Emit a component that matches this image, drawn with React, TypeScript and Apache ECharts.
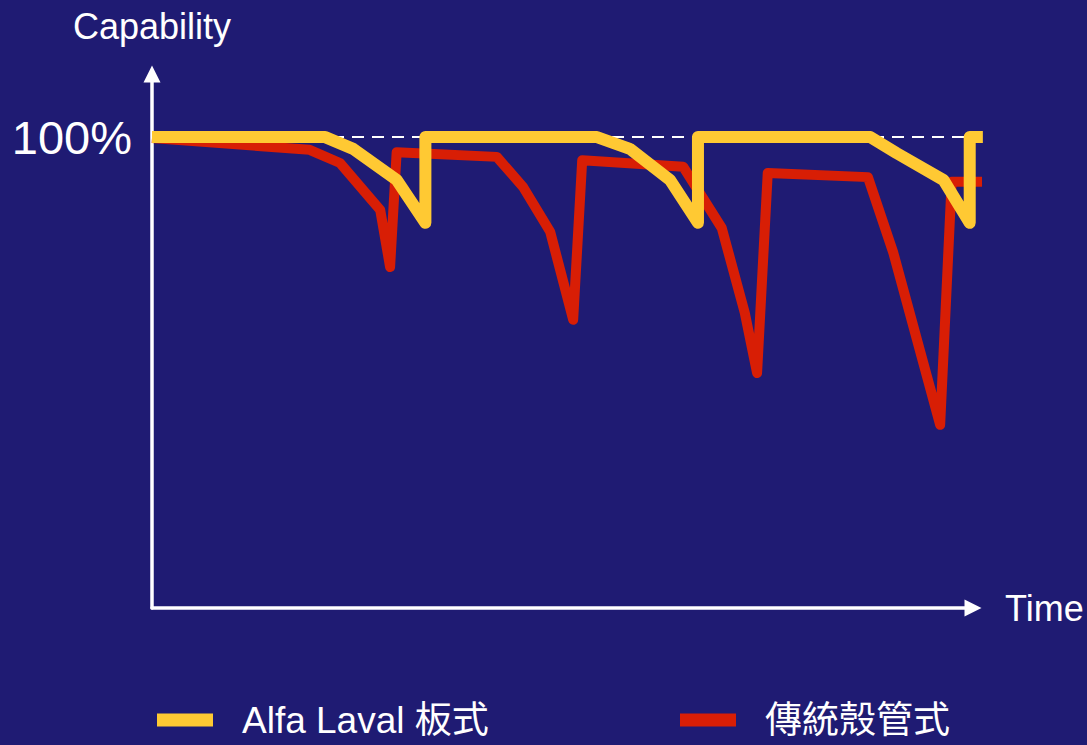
import React, { useEffect, useRef } from "react";
import * as echarts from "echarts";

// Time (arbitrary units) and capability (%) for each curve
const alfaTime = [0, 21.1, 24.5, 29.8, 33.3, 33.3, 54.2, 58.2, 63.1, 66.5, 66.5, 87.5, 90.7, 96.4, 99.6, 99.6, 101.2];
const alfaCap = [100, 100, 97.5, 90.9, 81.8, 100, 100, 97.5, 90.9, 81.8, 100, 100, 96.6, 90.9, 81.8, 100, 100];

const shellTime = [0, 19.2, 22.9, 27.8, 29.0, 29.8, 42.0, 45.2, 48.5, 51.3, 52.4, 64.7, 69.4, 72.2, 73.7, 75.0, 87.2, 90.3, 96.0, 97.4, 101.1];
const shellCap = [99.8, 97.3, 94.5, 84.5, 72.4, 96.8, 95.8, 89.4, 79.9, 61.2, 95.1, 93.7, 80.7, 62.7, 49.9, 92.4, 91.5, 75.4, 38.9, 90.5, 90.5];

const refTime = [0, 101.1];
const refCap = [100, 100];

const seriesNames = ["Alfa Laval 板式", "傳統殼管式"];
const axisNames = { x: "Time", y: "Capability" };
const yTickLabel = "100%";

const zip = (a: number[], b: number[]) => a.map((v, i) => [v, b[i]]);

const FONT = "'Liberation Sans', Arial, 'Noto Sans CJK TC', sans-serif";

const legendText = { color: "#ffffff", fontSize: 37, fontFamily: FONT, lineHeight: 40, padding: [6, 0, 0, 24] };

// visible axis frame: x 0..100 over 821px (8.21 px per unit); data frame extends to 102 units
const X_MAX = 100;
const X_DATA_MAX = 102;
const Y_MAX = 113.4;

export default function App() {
  const ref = useRef<HTMLDivElement>(null);
  useEffect(() => {
    if (!ref.current) return;
    const chart = echarts.init(ref.current, null, { renderer: "svg" });
    const pxPerUnit = 821 / X_MAX;
    chart.setOption({
      animation: false,
      backgroundColor: "#1f1b73",
      textStyle: { fontFamily: FONT },
      grid: [
        { left: 152, right: 114, top: 74, bottom: 137 },
        { left: 152, right: 1087 - 152 - pxPerUnit * X_DATA_MAX, top: 74, bottom: 137 },
      ],
      legend: [
        {
          left: 157,
          top: 697,
          padding: 0,
          data: [seriesNames[0]],
          icon: "rect",
          itemWidth: 56,
          itemHeight: 13,
          textStyle: legendText,
        },
        {
          left: 680,
          top: 697,
          padding: 0,
          data: [seriesNames[1]],
          icon: "rect",
          itemWidth: 56,
          itemHeight: 13,
          textStyle: legendText,
        },
      ],
      xAxis: [
        {
          type: "value",
          gridIndex: 0,
          min: 0,
          max: X_MAX,
          name: axisNames.x,
          nameLocation: "end",
          nameGap: 32,
          nameTextStyle: { color: "#ffffff", fontSize: 36, fontFamily: FONT, verticalAlign: "middle", padding: [8, 0, 0, 0] },
          axisLine: { show: true, symbol: ["none", "triangle"], symbolSize: [17, 17], lineStyle: { color: "#ffffff", width: 3.5 } },
          axisTick: { show: false },
          axisLabel: { show: false },
          splitLine: { show: false },
        },
        {
          type: "value",
          gridIndex: 1,
          min: 0,
          max: X_DATA_MAX,
          show: false,
          splitLine: { show: false },
        },
      ],
      yAxis: [
        {
          type: "value",
          gridIndex: 0,
          min: 0,
          max: Y_MAX,
          interval: 100,
          name: axisNames.y,
          nameLocation: "end",
          nameGap: 30,
          nameTextStyle: { color: "#ffffff", fontSize: 36, fontFamily: FONT, align: "center" },
          axisLine: { show: true, symbol: ["none", "triangle"], symbolSize: [17, 17], lineStyle: { color: "#ffffff", width: 3.5 } },
          axisTick: { show: false },
          axisLabel: {
            color: "#ffffff",
            fontSize: 47,
            fontFamily: FONT,
            margin: 20,
            formatter: (v: number) => (Math.abs(v - 100) < 0.01 ? yTickLabel : ""),
          },
          splitLine: { show: false },
        },
        {
          type: "value",
          gridIndex: 1,
          min: 0,
          max: Y_MAX,
          show: false,
          splitLine: { show: false },
        },
      ],
      series: [
        {
          name: "ref",
          type: "line",
          xAxisIndex: 1,
          yAxisIndex: 1,
          data: zip(refTime, refCap),
          showSymbol: false,
          silent: true,
          lineStyle: { color: "#ffffff", width: 2, type: [12, 8] },
          z: 1,
        },
        {
          name: seriesNames[1],
          type: "line",
          xAxisIndex: 1,
          yAxisIndex: 1,
          data: zip(shellTime, shellCap),
          showSymbol: false,
          color: "#d81e05",
          lineStyle: { color: "#d81e05", width: 10, join: "round", cap: "butt" },
          z: 2,
        },
        {
          name: seriesNames[0],
          type: "line",
          xAxisIndex: 1,
          yAxisIndex: 1,
          data: zip(alfaTime, alfaCap),
          showSymbol: false,
          color: "#ffc933",
          lineStyle: { color: "#ffc933", width: 12, join: "round", cap: "butt" },
          z: 3,
        },
      ],
    });
    return () => chart.dispose();
  }, []);
  return <div ref={ref} style={{ position: "absolute", left: 0, top: 0, width: 1087, height: 745 }} />;
}
